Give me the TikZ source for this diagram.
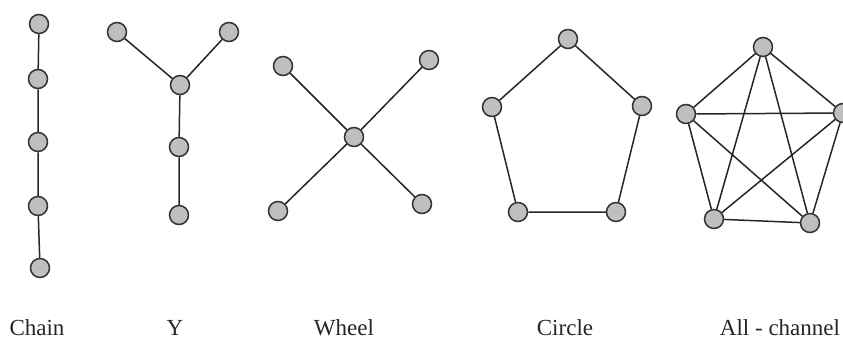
\documentclass[tikz,border=0pt]{standalone}
\usepackage{fontspec}
\setmainfont{Liberation Serif}
\begin{document}
\begin{tikzpicture}[x=1bp,y=-1bp,
  nd/.style={circle,draw=black!80,fill=black!25,line width=1.5bp,minimum size=19bp,inner sep=0pt},
  ln/.style={draw=black!85,line width=1.5bp},
  lbl/.style={anchor=base,font=\fontsize{23bp}{27bp}\selectfont,text=black!85,inner sep=0pt}]
\useasboundingbox (0,0) rectangle (843,341);
% Chain
\node[nd] (c1) at (39,24) {};
\node[nd] (c2) at (38,79) {};
\node[nd] (c3) at (38,142) {};
\node[nd] (c4) at (38,206) {};
\node[nd] (c5) at (40,268) {};
\draw[ln] (c1)--(c2) (c2)--(c3) (c3)--(c4) (c4)--(c5);
% Y
\node[nd] (y1) at (117,32) {};
\node[nd] (y2) at (229,32) {};
\node[nd] (y3) at (180,85) {};
\node[nd] (y4) at (179,147) {};
\node[nd] (y5) at (179,215) {};
\draw[ln] (y1)--(y3) (y2)--(y3) (y3)--(y4) (y4)--(y5);
% Wheel
\node[nd] (w0) at (354,137) {};
\node[nd] (w1) at (283,66) {};
\node[nd] (w2) at (429,60) {};
\node[nd] (w3) at (278,211) {};
\node[nd] (w4) at (422,204) {};
\draw[ln] (w0)--(w1) (w0)--(w2) (w0)--(w3) (w0)--(w4);
% Circle
\node[nd] (p1) at (568,39) {};
\node[nd] (p2) at (642,106) {};
\node[nd] (p3) at (616,212) {};
\node[nd] (p4) at (518,212) {};
\node[nd] (p5) at (492,107) {};
\draw[ln] (p1)--(p2) (p2)--(p3) (p3)--(p4) (p4)--(p5) (p5)--(p1);
% All-channel
\node[nd] (a1) at (763,47) {};
\node[nd] (a2) at (843,113) {};
\node[nd] (a3) at (810,223) {};
\node[nd] (a4) at (714,219) {};
\node[nd] (a5) at (686,114) {};
\draw[ln] (a1)--(a2) (a1)--(a3) (a1)--(a4) (a1)--(a5)
          (a2)--(a3) (a2)--(a4) (a2)--(a5)
          (a3)--(a4) (a3)--(a5) (a4)--(a5);
% Labels
\node[lbl] (tc) at (37,335) {Chain};
\node[lbl] (ty) at (175,335) {Y};
\node[lbl] (tw) at (344,335) {Wheel};
\node[lbl] (tr) at (565,335) {Circle};
\node[lbl] (ta) at (780,335) {All - channel};
\end{tikzpicture}
\end{document}
